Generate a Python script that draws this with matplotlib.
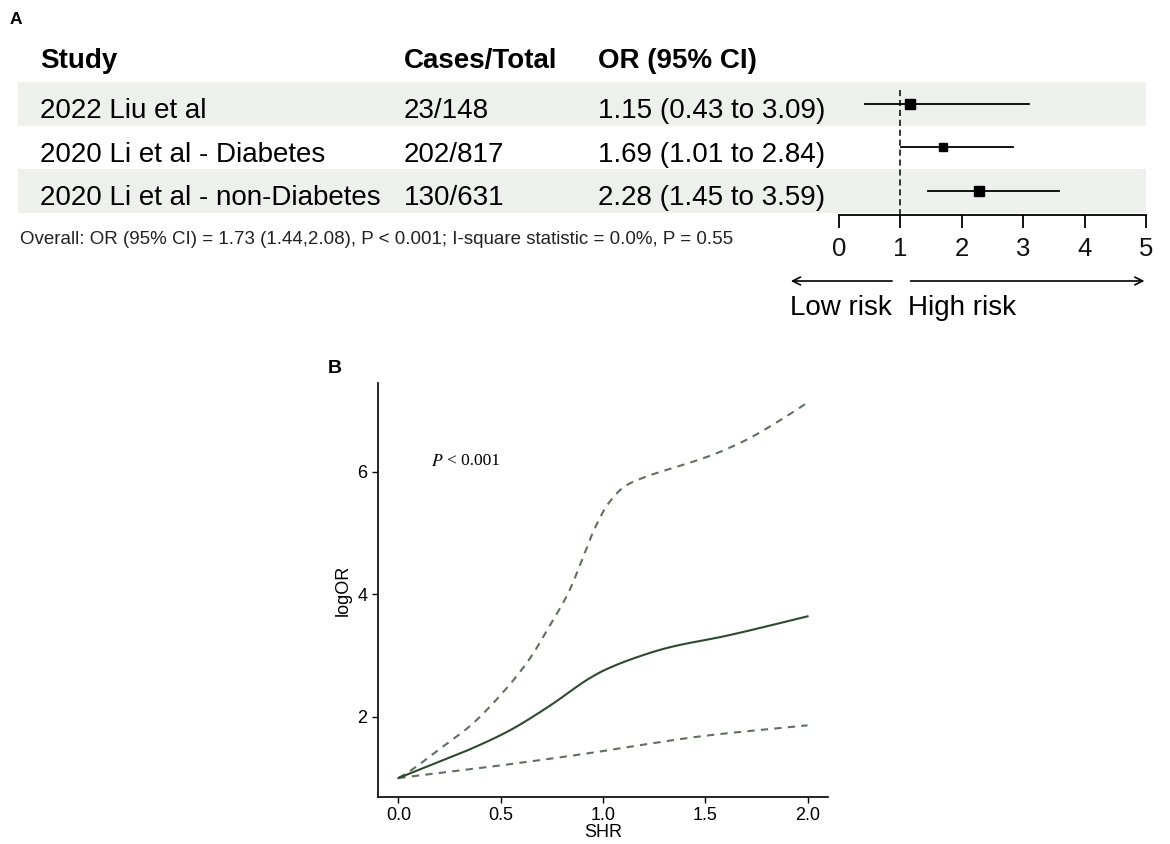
import numpy as np
import matplotlib.pyplot as plt

plt.rcParams["font.family"] = ["Liberation Sans", "DejaVu Sans"]

# ---- panel A data ----
studies = ["2022 Liu et al", "2020 Li et al - Diabetes", "2020 Li et al - non-Diabetes"]
cases = ["23/148", "202/817", "130/631"]
or_est = [1.15, 1.69, 2.28]
or_low = [0.43, 1.01, 1.45]
or_high = [3.09, 2.84, 3.59]
marker_size = [6.5, 5.2, 6.5]
overall_text = "Overall: OR (95% CI) = 1.73 (1.44,2.08), P < 0.001; I-square statistic = 0.0%, P = 0.55"
or_ticks = [0, 1, 2, 3, 4, 5]

# ---- panel B data ----
shr = [0.0, 0.15, 0.35, 0.54, 0.74, 0.93, 1.0, 1.13, 1.32, 1.6, 2.0]
log_or = [1.0, 1.20, 1.47, 1.77, 2.18, 2.62, 2.75, 2.93, 3.13, 3.32, 3.64]
shr_up = [0.0, 0.05, 0.2, 0.35, 0.49, 0.64, 0.74, 0.83, 0.9, 0.96, 1.03, 1.11,
          1.21, 1.37, 1.53, 1.7, 1.86, 2.0]
upper = [1.0, 1.10, 1.47, 1.85, 2.32, 2.94, 3.49, 4.02, 4.58, 5.08, 5.50, 5.77,
         5.92, 6.09, 6.27, 6.52, 6.83, 7.13]
shr_lo = [0.0, 0.44, 1.0, 1.13, 1.5, 2.0]
lower = [1.0, 1.18, 1.44, 1.51, 1.69, 1.86]
shr_ticks = [0.0, 0.5, 1.0, 1.5, 2.0]
logor_ticks = [2, 4, 6]

W, H = 1170, 844
fig = plt.figure(figsize=(W / 100, H / 100), dpi=100)


def fx(px):
    return px / W


def fy(py):
    return 1 - py / H


def pchip(x, y, n=300):
    # Fritsch-Carlson monotone cubic through the read points
    x = np.asarray(x, float)
    y = np.asarray(y, float)
    h = np.diff(x)
    d = np.diff(y) / h
    m = np.zeros_like(y)
    m[0], m[-1] = d[0], d[-1]
    for k in range(1, len(x) - 1):
        if d[k - 1] * d[k] > 0:
            w1 = 2 * h[k] + h[k - 1]
            w2 = h[k] + 2 * h[k - 1]
            m[k] = (w1 + w2) / (w1 / d[k - 1] + w2 / d[k])
    xs = np.linspace(x[0], x[-1], n)
    idx = np.clip(np.searchsorted(x, xs) - 1, 0, len(h) - 1)
    t = (xs - x[idx]) / h[idx]
    h00 = 2 * t**3 - 3 * t**2 + 1
    h10 = t**3 - 2 * t**2 + t
    h01 = -2 * t**3 + 3 * t**2
    h11 = t**3 - t**2
    ys = h00 * y[idx] + h10 * h[idx] * m[idx] + h01 * y[idx + 1] + h11 * h[idx] * m[idx + 1]
    return xs, ys


# ================= Panel A =================
x0_px, x5_px = 839, 1146
left_px, top_px, bot_px = 18, 82, 215
row_h = 43.5
upp = 5 / (x5_px - x0_px)
xmin = -(x0_px - left_px) * upp

axA = fig.add_axes([fx(left_px), fy(bot_px), fx(x5_px - left_px), (bot_px - top_px) / H])
axA.set_xlim(xmin, 5)
ylo = (bot_px - top_px) / row_h
axA.set_ylim(ylo, 0)
for s in ["left", "right", "top"]:
    axA.spines[s].set_visible(False)
axA.spines["bottom"].set_bounds(0, 5)
axA.spines["bottom"].set_linewidth(1.3)
axA.set_yticks([])
axA.set_xticks(or_ticks)
axA.set_xticklabels([str(t) for t in or_ticks], fontsize=18.5, color="#111111")
axA.tick_params(axis="x", length=9, width=1.3, pad=7)

for i in range(len(studies)):
    if i % 2 == 0:
        axA.axhspan(i, i + 1, color="#eef0ee", zorder=0, lw=0)

axA.plot([1, 1], [0.19, ylo], ls=(0, (4, 2.5)), color="black", lw=1.1, zorder=2)

rows = np.arange(len(studies)) + 0.5
for i in range(len(studies)):
    axA.plot([or_low[i], or_high[i]], [rows[i], rows[i]], color="black", lw=1.3, zorder=3)
    axA.plot(or_est[i], rows[i], marker="s", ms=marker_size[i], color="black", zorder=4)

# column texts
fs = 20
hdr_base = 68
fig.text(fx(10), fy(24), "A", fontsize=12.5, fontweight="bold", va="baseline")
fig.text(fx(40), fy(hdr_base), "Study", fontsize=fs, fontweight="bold", va="baseline")
fig.text(fx(404), fy(hdr_base), "Cases/Total", fontsize=fs, fontweight="bold", va="baseline")
fig.text(fx(598), fy(hdr_base), "OR (95% CI)", fontsize=fs, fontweight="bold", va="baseline")
for i in range(len(studies)):
    base = top_px + row_h * i + 36
    fig.text(fx(40), fy(base), studies[i], fontsize=fs, va="baseline")
    fig.text(fx(404), fy(base), cases[i], fontsize=fs, va="baseline")
    fig.text(fx(598), fy(base), f"{or_est[i]:.2f} ({or_low[i]:.2f} to {or_high[i]:.2f})",
             fontsize=fs, va="baseline")
fig.text(fx(20), fy(240), overall_text, fontsize=13.5, va="center", color="#222222")

# risk arrows
arr_y = (281 - top_px) / row_h
txt_y = (315 - top_px) / row_h
axA.annotate("", xy=(-0.83, arr_y), xytext=(0.91, arr_y), annotation_clip=False,
             arrowprops=dict(arrowstyle="->", lw=1.2, color="black", mutation_scale=14))
axA.annotate("", xy=(5.02, arr_y), xytext=(1.12, arr_y), annotation_clip=False,
             arrowprops=dict(arrowstyle="->", lw=1.2, color="black", mutation_scale=14))
axA.text(0.86, txt_y, "Low risk", fontsize=fs, ha="right", va="baseline", clip_on=False)
axA.text(1.12, txt_y, "High risk", fontsize=fs, ha="left", va="baseline", clip_on=False)

# ================= Panel B =================
axB = fig.add_axes([fx(378), fy(797), fx(828 - 378), (797 - 383) / H])
dash_col = "#5f705f"
xs, ys = pchip(shr_up, upper)
axB.plot(xs, ys, color=dash_col, lw=1.5, ls=(0, (3.5, 3)))
xs, ys = pchip(shr_lo, lower)
axB.plot(xs, ys, color=dash_col, lw=1.5, ls=(0, (3.5, 3)))
xs, ys = pchip(shr, log_or)
axB.plot(xs, ys, color="#2e4a2e", lw=1.5)

axB.set_xlim(-0.1, 2.1)
axB.set_ylim(0.69, 7.45)
axB.set_xticks(shr_ticks)
axB.set_xticklabels([f"{t:.1f}" for t in shr_ticks], fontsize=13)
axB.set_yticks(logor_ticks)
axB.set_yticklabels([str(t) for t in logor_ticks], fontsize=13)
axB.spines["top"].set_visible(False)
axB.spines["right"].set_visible(False)
for s in ["left", "bottom"]:
    axB.spines[s].set_linewidth(1.2)
axB.tick_params(length=4, width=1.0, colors="black")
axB.set_xlabel("SHR", fontsize=13, labelpad=0)
axB.set_ylabel("logOR", fontsize=13, labelpad=4)
axB.text(0.16, 6.18, r"$P$", fontsize=12.5, va="center", math_fontfamily="stix")
axB.text(0.235, 6.18, "< 0.001", fontsize=12.5, family="Liberation Serif", va="center")
fig.text(fx(328), fy(368), "B", fontsize=14, fontweight="bold", va="center")

fig.savefig("out.png", dpi=100)
